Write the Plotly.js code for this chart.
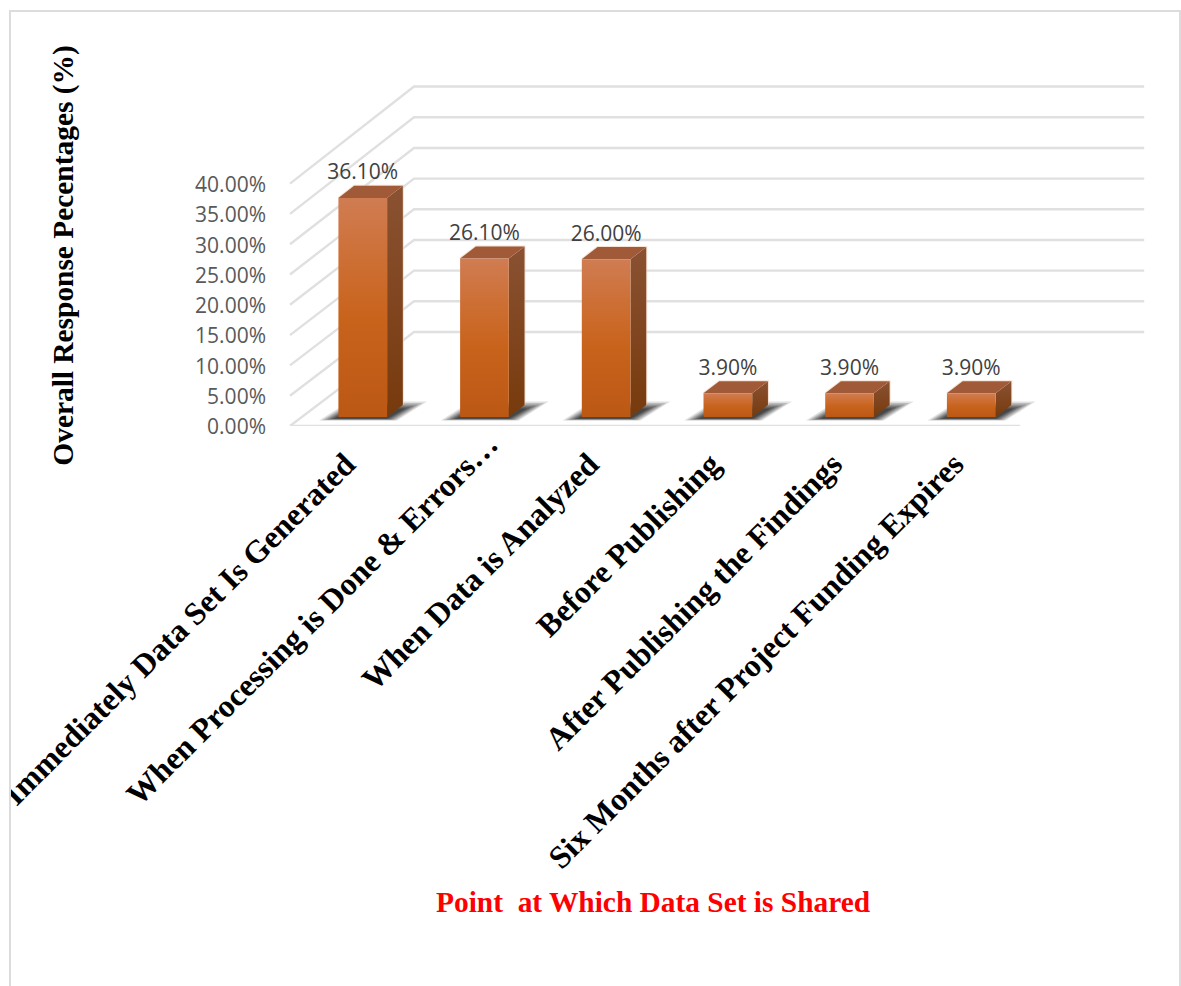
<!DOCTYPE html>
<html>
<head>
<meta charset="utf-8">
<title>Point at Which Data Set is Shared</title>
<script src="https://cdn.plot.ly/plotly-3.0.1.min.js"></script>
<style>
  html, body { margin: 0; padding: 0; background: #fff; overflow: hidden; }
  #frame {
    position: absolute; left: 9px; top: 10px; width: 1168px; height: 976px;
    border: 2px solid #dcdcdc; border-bottom: none; overflow: hidden; background: #fff;
  }
  #chart { width: 1168px; height: 974px; }
</style>
</head>
<body>
<div id="frame"><div id="chart"></div></div>
<script>
// Survey results
const categories = [
  "Immediately Data Set Is Generated",
  "When Processing is Done & Errors…",
  "When Data is Analyzed",
  "Before Publishing",
  "After Publishing the Findings",
  "Six Months after Project Funding Expires"
];
const responses = [36.1, 26.1, 26.0, 3.9, 3.9, 3.9];
const valueTicks = [0, 5, 10, 15, 20, 25, 30, 35, 40];

// Oblique projection of the 3D box onto the flat axes.
// u: category position, v: percent, d: depth (0 = front of the floor, 1 = back wall).
const PX_PER_CAT = 121.7, PX_PER_PCT = 6.06;
const DEPTH_DX = 124 / PX_PER_CAT, DEPTH_DY = 94 / PX_PER_PCT, DEPTH_SCALE = 0.0125;
const project = (u, v, d) => [u + d * DEPTH_DX, v * (1 + DEPTH_SCALE * d) + d * DEPTH_DY];

function poly(points) {
  const pts = points.concat([points[0]]).map(p => project(p[0], p[1], p[2]));
  return { x: pts.map(p => p[0]), y: pts.map(p => p[1]) };
}
const base = { type: "scatter", mode: "lines", hoverinfo: "skip", showlegend: false };

const traces = [];

// Walls and floor
const U0 = -0.5, U1 = categories.length - 0.5;
const gridStyle = { color: "#e0e0e0", width: 2.4 };
valueTicks.forEach(t => {
  const a = project(U0, t, 0), b = project(U0, t, 1), c = project(U1, t, 1);
  traces.push(Object.assign({}, base, { x: [a[0], b[0], c[0]], y: [a[1], b[1], c[1]], line: gridStyle }));
});
const fl = [project(U0, 0, 0), project(U1, 0, 0)];
traces.push(Object.assign({}, base, { x: fl.map(p => p[0]), y: fl.map(p => p[1]), line: gridStyle }));

// Bars
const HALF = 0.2, D_FRONT = 0.096, D_BACK = 0.223;
const frontScale = [[0, "#bb5814"], [0.45, "#c8631c"], [0.65, "#cc6c2e"], [1, "#d07c52"]];
const sideScale = [[0, "#773a0c"], [1, "#8a5233"]];

// Soft floor shadow, built from nested translucent layers:
// half width, front depth, back depth, opacity
const shadowLayers = [
  [0.32, 0.058, 0.26, 0.14], [0.30, 0.062, 0.245, 0.18], [0.28, 0.066, 0.23, 0.22],
  [0.26, 0.07, 0.215, 0.26], [0.24, 0.074, 0.2, 0.3], [0.22, 0.078, 0.185, 0.34]
];
responses.forEach((v, i) => {
  shadowLayers.forEach(s => {
    const g = poly([[i - s[0], 0, s[1]], [i + s[0], 0, s[1]], [i + s[0] + 0.04, 0, s[2]], [i - s[0] + 0.04, 0, s[2]]]);
    traces.push(Object.assign({}, base, g, {
      fill: "toself", fillcolor: "rgba(30,30,30," + s[3] + ")", line: { width: 0 }
    }));
  });
});

responses.forEach((v, i) => {
  const l = i - HALF, r = i + HALF;
  const outline = poly([[l, v, D_FRONT], [l, v, D_BACK], [r, v, D_BACK], [r, 0, D_BACK]]);
  outline.x.pop(); outline.y.pop();
  traces.push(Object.assign({}, base, outline, { line: { color: "rgba(240,205,180,0.6)", width: 2 } }));
  traces.push(Object.assign({}, base, poly([[r, 0, D_FRONT], [r, 0, D_BACK], [r, v, D_BACK], [r, v, D_FRONT]]), {
    fill: "toself", line: { width: 0 }, fillgradient: { type: "vertical", colorscale: sideScale }
  }));
  traces.push(Object.assign({}, base, poly([[l, v, D_FRONT], [r, v, D_FRONT], [r, v, D_BACK], [l, v, D_BACK]]), {
    fill: "toself", fillcolor: "#a05a38", line: { width: 0 }
  }));
  traces.push(Object.assign({}, base, poly([[l, 0, D_FRONT], [r, 0, D_FRONT], [r, v, D_FRONT], [l, v, D_FRONT]]), {
    fill: "toself", line: { width: 0 }, fillgradient: { type: "vertical", colorscale: frontScale }
  }));
});

// Value labels above each bar
const LABEL_LIFT = 0.2;
traces.push({
  type: "scatter", mode: "text", hoverinfo: "skip", showlegend: false, cliponaxis: false,
  x: responses.map((v, i) => project(i, v, D_FRONT)[0]),
  y: responses.map((v, i) => project(i, v, D_BACK)[1] + LABEL_LIFT),
  text: responses.map(v => v.toFixed(2) + "%"),
  textposition: "top center",
  textfont: { family: "Open Sans", size: 21, color: "#404040" }
});

// The truncated second category sits further along its slant than the others,
// so it is placed as a rotated note and left blank among the tick labels.
const SLANTED = 1;
const catFont = { family: "Liberation Serif", size: 32, color: "#000", weight: 700 };

// Plot area in frame pixels: left 261, right edge 1139, top 73, bottom 414
const layout = {
  width: 1168, height: 974,
  margin: { l: 261, r: 29, t: 73, b: 560, pad: 0 },
  paper_bgcolor: "#fff", plot_bgcolor: "#fff",
  showlegend: false,
  xaxis: {
    range: [U0 + (272 - 290) / PX_PER_CAT, U0 + (1150 - 290) / PX_PER_CAT],
    tickmode: "array", tickvals: categories.map((c, i) => i),
    ticktext: categories.map((c, i) => i === SLANTED ? "" : c),
    tickangle: -45, ticks: "", showgrid: false, zeroline: false, showline: false,
    ticklabelstandoff: 12, ticklabelshift: -5, ticklabeloverflow: "allow",
    tickfont: catFont
  },
  yaxis: {
    range: [0, 341 / PX_PER_PCT],
    tickmode: "array", tickvals: valueTicks,
    ticktext: valueTicks.map(t => t.toFixed(2) + "%"),
    ticks: "", showgrid: false, zeroline: false, showline: false,
    tickfont: { family: "Open Sans", size: 21, color: "#595959" },
    ticklabelstandoff: 5, ticklabelshift: 1,
    title: {
      text: "Overall Response Pecentages (%)\u2009", standoff: 112,
      font: { family: "Liberation Serif", size: 29.4, color: "#000", weight: 700 }
    }
  },
  annotations: [{
    xref: "paper", yref: "paper", xanchor: "center", yanchor: "middle", showarrow: false,
    x: (653 - 272) / 878, y: -(902 - 426) / 341,
    text: "<b>Point\u00a0 at Which Data Set is Shared</b>",
    font: { family: "Liberation Serif", size: 29.4, color: "#ff0000" }
  }, {
    xref: "x", yref: "y", x: SLANTED, y: 0, xanchor: "center", yanchor: "middle",
    showarrow: false, textangle: -45, xshift: -160.7, yshift: -193,
    text: categories[SLANTED], font: catFont
  }]
};

Plotly.newPlot("chart", traces, layout, { displayModeBar: false, staticPlot: true });
</script>
</body>
</html>
